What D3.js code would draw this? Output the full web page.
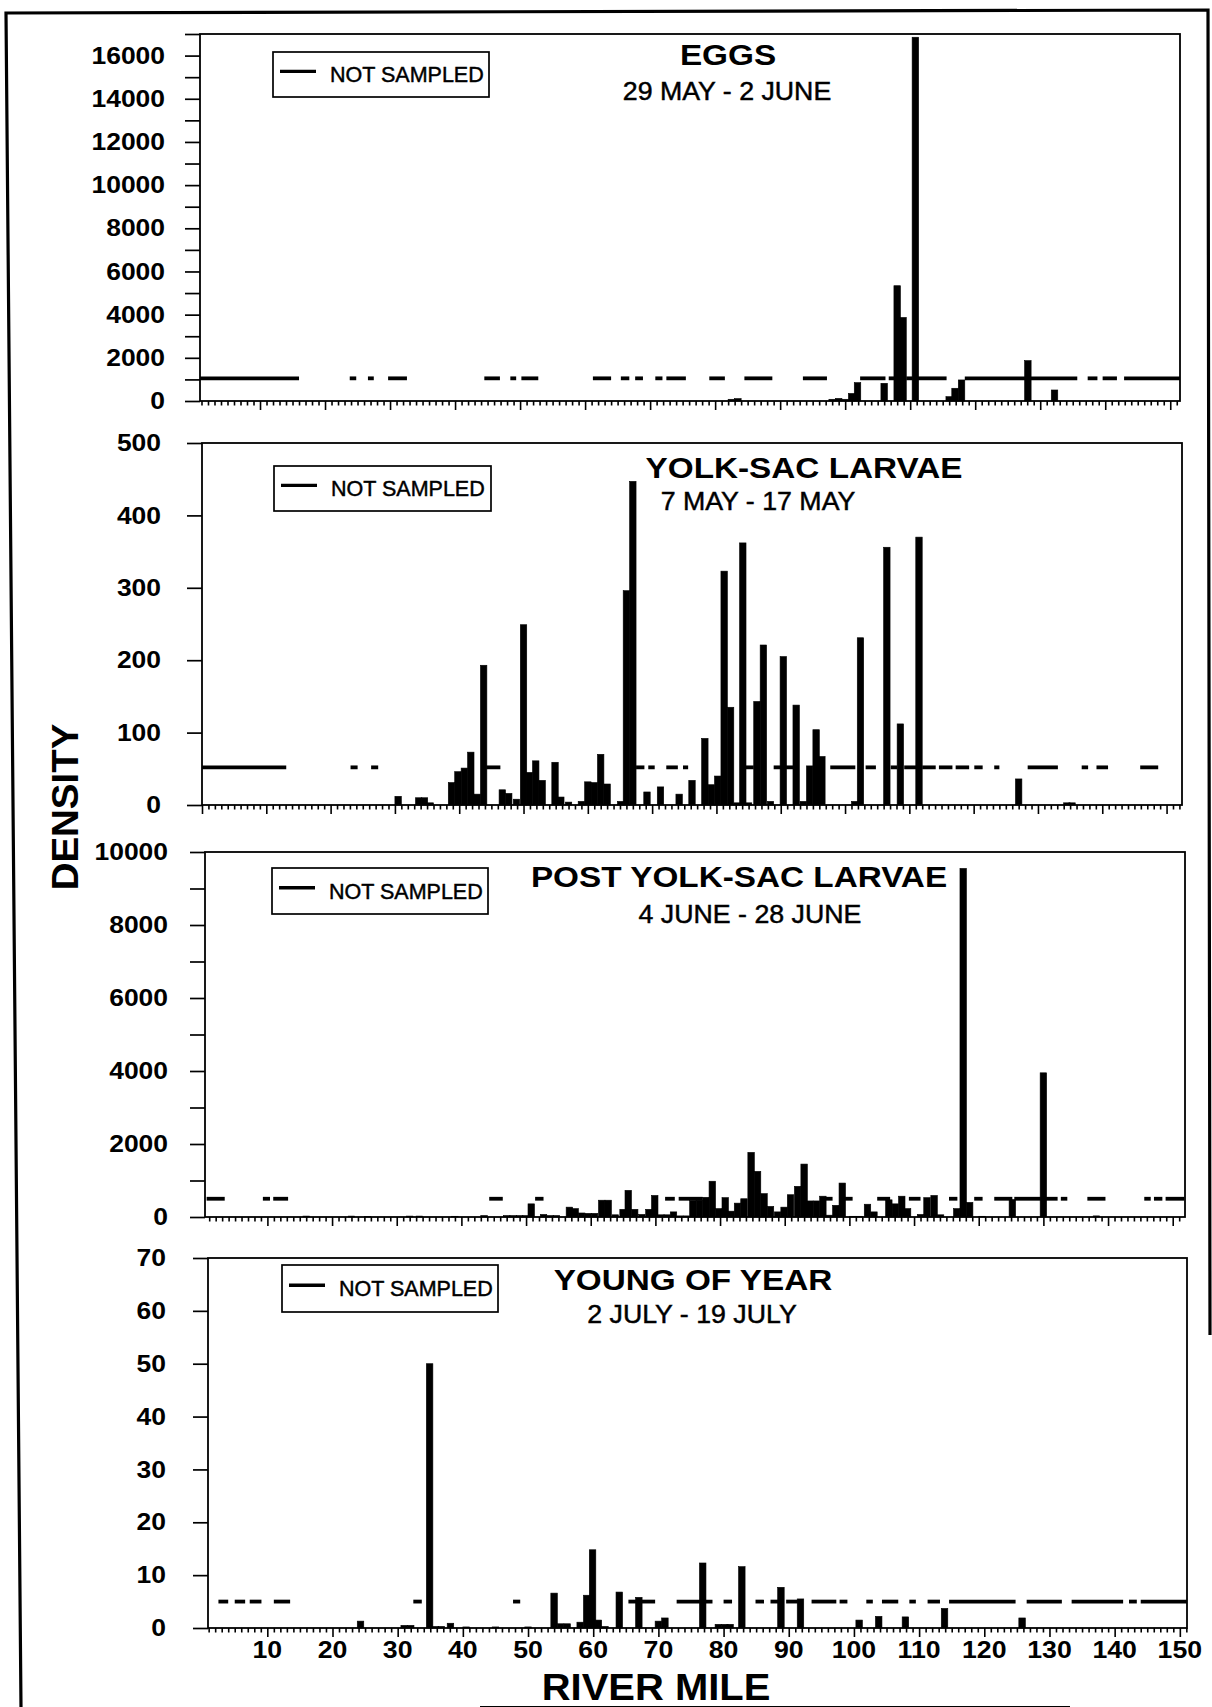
<!DOCTYPE html>
<html>
<head>
<meta charset="utf-8">
<script src="https://cdn.jsdelivr.net/npm/d3@7"></script>
<style>
  html, body { margin: 0; padding: 0; background: #fff; }
  svg { display: block; }
  text { font-family: "Liberation Sans", Arial, Helvetica, sans-serif; fill: #000; }
  .heavy { stroke: #000; stroke-width: 0.45px; }
</style>
</head>
<body>
<svg id="chart" width="1212" height="1707"></svg>
<script>
// ---- Panel text ----
const panelTitles = ["EGGS", "YOLK-SAC LARVAE", "POST YOLK-SAC LARVAE", "YOUNG OF YEAR"];
const panelDates  = ["29 MAY - 2 JUNE", "7 MAY - 17 MAY", "4 JUNE - 28 JUNE", "2 JULY - 19 JULY"];
const legendLabel = "NOT SAMPLED";
const xAxisTitle = "RIVER MILE";
const yAxisTitle = "DENSITY";

// ---- Axis ticks ----
const xTickLabels = [10, 20, 30, 40, 50, 60, 70, 80, 90, 100, 110, 120, 130, 140, 150];
const eggsYTicks  = [0, 2000, 4000, 6000, 8000, 10000, 12000, 14000, 16000];
const yolkYTicks  = [0, 100, 200, 300, 400, 500];
const postYTicks  = [0, 2000, 4000, 6000, 8000, 10000];
const yoyYTicks   = [0, 10, 20, 30, 40, 50, 60, 70];
const yMax        = [17000, 500, 10000, 70];
const yMinorStep  = [1000, 100, 1000, 10];

// ---- Eggs, 29 May - 2 June ----
const eggsMiles   = [82.5, 83.5, 98, 99, 100, 101, 101.9, 106, 108, 108.9, 110.8, 116, 116.9, 117.9, 128.1, 132.2];
const eggsDensity = [80, 110, 80, 120, 80, 350, 850, 820, 5340, 3870, 16850, 200, 590, 975, 1870, 510];
const eggsNotSampled = [[0.77, 16], [23.8, 24.8], [26.6, 27.5], [29.7, 32.6], [44.5, 46.9], [48.5, 49.4],
  [50.2, 52.8], [61.2, 64], [65.5, 66.8], [67.7, 68.9], [70.8, 71.9], [72.5, 75.5], [79.1, 81.5],
  [84.5, 88.8], [93.5, 97.2], [102.3, 106.2], [106.7, 107.6], [109.4, 110.4], [111.2, 115.6],
  [118.4, 135.7], [137.3, 138.8], [139.6, 141.8], [142.9, 151.5]];

// ---- Yolk-sac larvae, 7 May - 17 May ----
const yolkMiles = [30.5, 33.7, 34.6, 35.5, 38.8, 39.8, 40.8, 41.8, 42.8, 43.8, 46.7, 47.7, 48.9, 50, 50.9,
  51.9, 52.9, 54.9, 55.8, 57, 59, 60, 61, 62, 63, 65.1, 66, 67, 69.2, 71.3, 74.2, 76.2, 78.2, 79.2, 80.2,
  81.2, 82.2, 83.2, 84.1, 85, 86.3, 87.3, 88.4, 90.4, 92.4, 93.5, 94.5, 95.5, 96.4, 101.5, 102.4, 106.5,
  108.6, 111.5, 127, 134.5, 135.3];
const yolkDensity = [12, 10, 10, 3, 31, 46, 51, 73, 15, 193, 21, 16, 8, 249, 45,
  61, 34, 59, 11, 4, 5, 32, 31, 70, 29, 5, 296, 447, 18, 25, 15, 34, 92, 28, 40,
  323, 135, 3, 362, 3, 143, 221, 5, 205, 138, 5, 54, 104, 67, 5, 231, 356,
  112, 370, 36, 3, 3];
const yolkNotSampled = [[0, 13.1], [23.1, 24.2], [26.3, 27.4], [44.2, 46.4], [67.5, 68.8], [69.4, 70.4],
  [72.2, 74], [74.8, 75.6], [84.5, 85.8], [88.9, 92], [97.7, 101.6], [103.2, 104.8], [107.1, 108.1],
  [109.2, 111.1], [112, 114.1], [114.6, 116.7], [117.2, 119.3], [120.1, 121.4], [123.2, 124],
  [128.4, 133.1], [136.8, 137.8], [139.1, 140.9], [145.9, 148.7]];

// ---- Post yolk-sac larvae, 4 June - 28 June ----
const postMiles = [16, 23, 25.5, 32, 33.5, 39, 43.5, 47, 48, 49, 50, 50.8, 52.7, 53.7, 54.7, 56.7, 57.6,
  58.6, 59.6, 60.6, 61.7, 62.7, 63.8, 65, 65.8, 66.8, 67.9, 69, 69.9, 70.9, 71.8, 72.8, 73.8, 74.8, 75.8,
  76.8, 77.8, 78.8, 79.8, 80.8, 81.7, 82.7, 83.7, 84.8, 85.8, 86.8, 87.8, 88.9, 89.9, 90.9, 92, 93, 93.9,
  94.9, 95.9, 96.9, 97.9, 98.9, 100.5, 101.5, 102.8, 103.8, 106.1, 107.1, 108.1, 109, 111, 112, 113.1,
  114.1, 116.6, 117.6, 118.6, 120.5, 125.2, 130, 138.2];
const postDensity = [25, 25, 15, 25, 25, 20, 40, 40, 40, 40, 40, 360, 70, 40, 40, 270, 230,
  110, 100, 100, 460, 460, 60, 210, 730, 210, 70, 210, 590, 60, 60, 140, 30, 30, 450,
  460, 540, 980, 230, 530, 160, 380, 500, 1770, 1250, 640, 290, 140, 270, 610, 840, 1450, 440,
  440, 570, 50, 320, 930, 20, 20, 350, 140, 470, 360, 570, 230, 70, 530, 590,
  60, 230, 9550, 400, 20, 480, 3950, 30];
const postNotSampled = [[0.6, 3.4], [9.3, 10.4], [10.9, 13.2], [44.3, 46.4], [51.4, 52.7], [71.5, 73],
  [73.6, 77.3], [96.3, 97.4], [99.3, 100.5], [104.3, 106.3], [109.2, 111], [115.4, 116.7], [119.3, 120.6],
  [122.4, 125.2], [125.5, 129.6], [130.4, 132.2], [132.7, 133.7], [136.8, 139.6], [145.6, 146.6],
  [147.1, 148.4], [148.9, 151.8]];

// ---- Young of year, 2 July - 19 July ----
const yoyMiles = [24.3, 31, 32, 34.9, 35.8, 36.7, 38.1, 40.5, 45, 50, 54, 55, 56, 58, 59, 59.9, 60.8, 61.8,
  64, 67, 70, 71, 76.8, 79.2, 80.2, 81, 82.8, 88.8, 91.8, 100.8, 103.8, 107.9, 113.9, 125.8];
const yoyDensity = [1.3, 0.5, 0.5, 50, 0.3, 0.3, 0.9, 0.2, 0.2, 0.2, 6.6, 0.8, 0.8, 1.1, 6.2, 14.8, 1.5, 0.3,
  6.8, 5.8, 1.3, 1.9, 12.3, 0.7, 0.7, 0.7, 11.6, 7.7, 5.5, 1.5, 2.2, 2.1, 3.7, 1.9];
const yoyNotSampled = [[2.5, 4], [5, 6.6], [7.3, 9.1], [11, 13.5], [32.4, 33.7], [47.7, 48.8], [65.4, 69.5],
  [72.8, 78.3], [80, 81.3], [84.9, 86.2], [87.2, 88.6], [89.6, 91.4], [93.5, 97.3], [97.8, 99],
  [101.9, 102.9], [104.3, 106.8], [108.5, 109.5], [111.3, 113.2], [114.6, 124.8], [126.5, 131.9],
  [133.4, 141.3], [142.2, 143.4], [144, 151.1]];

const notSampledLevel = [1050, 52, 500, 5];

// ---- Page layout (pixels) ----
const layout = [
  { left: 200, right: 1180, top: 34,   bottom: 401,  x0: 0.77, x1: 151.5, labelRight: 165,
    title: [728, 65],   date: [727, 100],  legend: { x: 273, y: 52,   w: 216, h: 45 } },
  { left: 202, right: 1182, top: 443,  bottom: 805,  x0: 0,    x1: 152.4, labelRight: 161,
    title: [804, 478],  date: [758, 510],  legend: { x: 274, y: 466,  w: 217, h: 45 } },
  { left: 205, right: 1185, top: 852,  bottom: 1217, x0: 0.35, x1: 151.9, labelRight: 168,
    title: [739, 887],  date: [750, 923],  legend: { x: 272, y: 868,  w: 216, h: 46 } },
  { left: 208, right: 1187, top: 1258, bottom: 1628, x0: 0.9,  x1: 151.1, labelRight: 166,
    title: [693, 1290], date: [692, 1323], legend: { x: 282, y: 1265, w: 216, h: 47 } }
];

const svg = d3.select("#chart");

// Outer border around the whole figure
svg.append("path")
  .attr("d", "M21,1707 L6,13 L1208,10 L1210,1335")
  .attr("fill", "none").attr("stroke", "#000").attr("stroke-width", 3.2);
svg.append("line")
  .attr("x1", 480).attr("x2", 1070).attr("y1", 1707).attr("y2", 1707)
  .attr("stroke", "#000").attr("stroke-width", 2);

function stretched(sel, x, y, k, extra) {
  return sel.attr("transform", `translate(${x},${y}) scale(${k},1)` + (extra || ""));
}

function drawPanel(i, miles, values, gaps, yTicks, showXLabels) {
  const L = layout[i];
  const x = d3.scaleLinear().domain([L.x0, L.x1]).range([L.left, L.right]);
  const y = d3.scaleLinear().domain([0, yMax[i]]).range([L.bottom, L.top]);
  const g = svg.append("g");

  // y ticks (every minor step), pointing outward
  const yAxis = d3.axisLeft(y)
    .tickValues(d3.range(0, yMax[i] + 1, yMinorStep[i]))
    .tickSize(15).tickFormat("");
  const ya = g.append("g").attr("transform", `translate(${L.left},0)`).call(yAxis);
  ya.select(".domain").remove();
  ya.selectAll(".tick line").attr("stroke-width", 1.7);

  // y tick labels
  yTicks.forEach(v => {
    stretched(g.append("text"), L.labelRight, y(v) + 8.2, 1.15)
      .attr("text-anchor", "end")
      .attr("font-size", 23).attr("font-weight", "bold")
      .text(v);
  });

  // x ticks: one per mile, longer every ten miles
  const m0 = Math.ceil(L.x0), m1 = Math.floor(L.x1);
  const minor = d3.range(m0, m1 + 1).filter(m => m % 10 !== 0);
  const major = d3.range(m0, m1 + 1).filter(m => m % 10 === 0);
  const xa1 = g.append("g").attr("transform", `translate(0,${L.bottom})`)
    .call(d3.axisBottom(x).tickValues(minor).tickSize(4.5).tickFormat(""));
  const xa2 = g.append("g").attr("transform", `translate(0,${L.bottom})`)
    .call(d3.axisBottom(x).tickValues(major).tickSize(9).tickFormat(""));
  [xa1, xa2].forEach(a => {
    a.select(".domain").remove();
    a.selectAll(".tick line").attr("stroke-width", 1.6);
  });

  if (showXLabels) {
    xTickLabels.forEach(v => {
      stretched(g.append("text"), x(v), 1658, 1.09)
        .attr("text-anchor", "middle")
        .attr("font-size", 24.5).attr("font-weight", "bold")
        .text(v);
    });
  }

  // "not sampled" reaches
  g.append("g").selectAll("line").data(gaps).join("line")
    .attr("x1", d => x(d[0])).attr("x2", d => x(d[1]))
    .attr("y1", y(notSampledLevel[i])).attr("y2", y(notSampledLevel[i]))
    .attr("stroke", "#000").attr("stroke-width", 3.8);

  // density bars
  const data = miles.map((m, k) => ({ m, v: values[k] }));
  g.append("g").selectAll("rect").data(data).join("rect")
    .attr("x", d => x(d.m - 0.5))
    .attr("width", d => x(d.m + 0.5) - x(d.m - 0.5))
    .attr("y", d => y(d.v))
    .attr("height", d => y(0) - y(d.v))
    .attr("fill", "#000")
    .attr("stroke", "#000").attr("stroke-width", 0.6);

  // panel frame
  g.append("rect")
    .attr("x", L.left).attr("y", L.top)
    .attr("width", L.right - L.left).attr("height", L.bottom - L.top)
    .attr("fill", "none").attr("stroke", "#000").attr("stroke-width", 1.8);

  // title and dates
  stretched(g.append("text"), L.title[0], L.title[1], 1.11)
    .attr("text-anchor", "middle").attr("font-size", 30).attr("font-weight", "bold")
    .text(panelTitles[i]);
  stretched(g.append("text"), L.date[0], L.date[1], 1.07)
    .attr("class", "heavy")
    .attr("text-anchor", "middle").attr("font-size", 25)
    .text(panelDates[i]);

  // legend
  const lg = L.legend;
  g.append("rect")
    .attr("x", lg.x).attr("y", lg.y).attr("width", lg.w).attr("height", lg.h)
    .attr("fill", "#fff").attr("stroke", "#000").attr("stroke-width", 1.7);
  g.append("line")
    .attr("x1", lg.x + 7).attr("x2", lg.x + 43)
    .attr("y1", lg.y + lg.h * 0.43).attr("y2", lg.y + lg.h * 0.43)
    .attr("stroke", "#000").attr("stroke-width", 3.4);
  g.append("text")
    .attr("class", "heavy")
    .attr("x", lg.x + 57).attr("y", lg.y + lg.h * 0.67)
    .attr("font-size", 21.5)
    .text(legendLabel);
}

drawPanel(0, eggsMiles, eggsDensity, eggsNotSampled, eggsYTicks, false);
drawPanel(1, yolkMiles, yolkDensity, yolkNotSampled, yolkYTicks, false);
drawPanel(2, postMiles, postDensity, postNotSampled, postYTicks, false);
drawPanel(3, yoyMiles, yoyDensity, yoyNotSampled, yoyYTicks, true);

// axis titles
stretched(svg.append("text"), 656, 1700, 1.08)
  .attr("text-anchor", "middle").attr("font-size", 37).attr("font-weight", "bold")
  .text(xAxisTitle);
svg.append("text")
  .attr("transform", "translate(78,807) rotate(-90) scale(1.04,1)")
  .attr("text-anchor", "middle").attr("font-size", 37).attr("font-weight", "bold")
  .text(yAxisTitle);
</script>
</body>
</html>
